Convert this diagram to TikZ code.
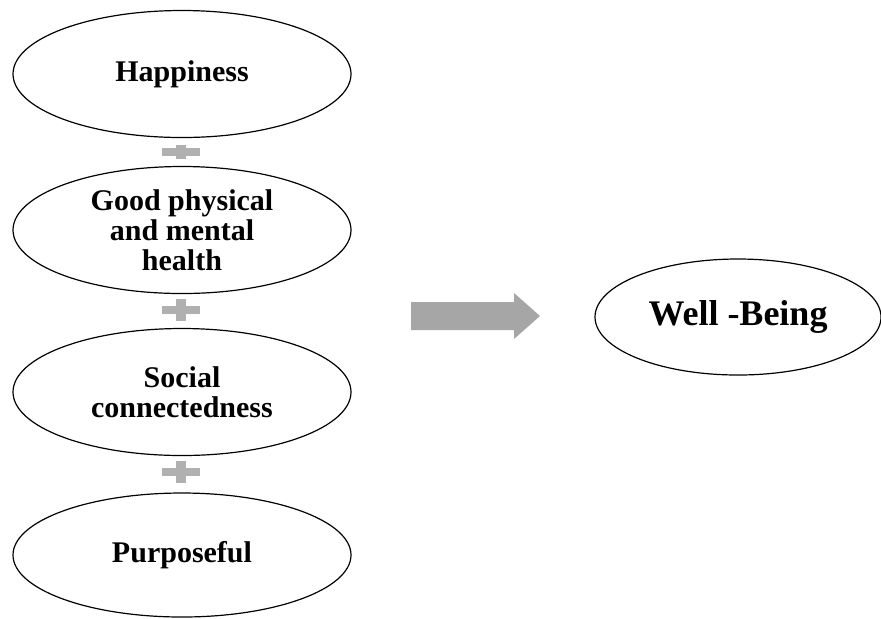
\documentclass[tikz,border=0pt]{standalone}
\usepackage{fontspec}
\setmainfont{Liberation Serif}
\usetikzlibrary{shapes.geometric}
\definecolor{arrowgray}{RGB}{166,166,166}
\definecolor{plusgray}{RGB}{176,176,176}
\begin{document}
\begin{tikzpicture}[x=0.5pt, y=-0.5pt,
		oval/.style={ellipse, draw=black, line width=0.6pt, inner sep=0pt, align=center,
			minimum width=169pt, minimum height=63.5pt, font=\fontsize{15}{15}\selectfont\bfseries},
		plusbar/.style={plusgray, line width=4pt}]
		\useasboundingbox (0,0) rectangle (881,618);
		
		\node[oval] (happy) at (182,74) {Happiness};
		\node[oval] (health) at (182,230) {Good physical\\and mental\\health};
		\node[oval] (social) at (182,392) {Social\\connectedness};
		\node[oval, minimum height=62pt] (purpose) at (182,555) {Purposeful};
		
		\foreach \y/\h in {152/7, 310/11, 472/11}
		{
			\draw[plusbar] (162,\y) -- (200,\y);
			\draw[plusbar, line width=5pt] (181,\y-\h) -- (181,\y+\h);
		}
		
		\fill[arrowgray] (411,302) -- (514,302) -- (514,293) -- (540,316) -- (514,339) -- (514,330) -- (411,330) -- cycle;
		
		\node[oval, minimum width=143pt, minimum height=58pt, font=\fontsize{18}{18}\selectfont\bfseries] (well) at (738,317) {Well -Being};
	\end{tikzpicture}
\end{document}
